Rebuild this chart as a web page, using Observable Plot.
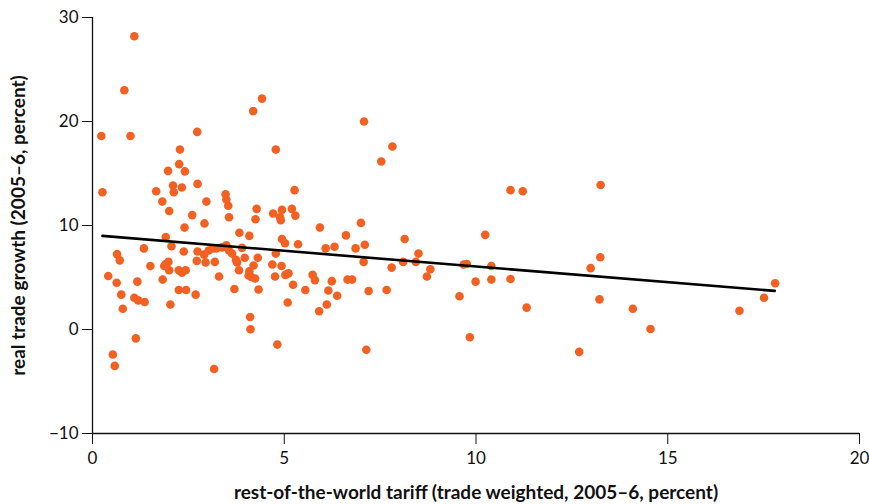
<!DOCTYPE html>
<html><head><meta charset="utf-8">
<script src="https://cdn.jsdelivr.net/npm/d3@7"></script>
<script src="https://cdn.jsdelivr.net/npm/@observablehq/plot@0.6"></script>
<style>
body{margin:0;background:#fff}
g[aria-label="x-axis label"], g[aria-label="y-axis label"]{font-weight:bold;font-size:19px}
</style>
</head><body><div id="chart"></div>
<script>
// rest-of-the-world tariff (x) and real trade growth (y)
const tariff = [1.09,0.83,0.23,0.99,4.42,4.19,2.73,2.28,4.78,2.26,1.97,2.41,0.26,2.74,2.10,2.33,1.66,2.12,3.47,3.49,
  1.82,2.97,3.54,2.0,4.28,4.71,4.94,2.60,3.56,4.25,4.89,4.91,2.92,2.40,3.83,4.09,1.91,4.94,5.02,1.34,
  2.06,2.38,2.74,2.91,3.03,3.14,3.23,3.38,3.49,3.56,3.64,3.90,3.74,3.77,3.97,4.31,4.78,0.64,0.71,1.51,
  1.91,1.98,1.87,2.0,2.25,2.33,2.43,2.72,2.95,3.19,1.83,3.30,3.82,4.20,4.09,4.07,4.14,4.24,4.33,4.69,
  4.93,4.76,5.03,5.11,0.41,0.63,1.17,0.75,1.09,1.19,1.36,0.79,2.25,2.44,2.69,3.70,2.03,4.11,4.12,1.13,
  4.82,0.53,0.58,3.17,7.08,7.82,7.53,5.27,5.20,5.29,5.93,7.0,6.61,8.14,5.36,6.08,6.31,6.86,7.10,8.50,
  7.07,7.80,8.10,8.43,8.81,8.72,9.68,9.76,5.74,5.80,5.23,6.24,6.65,6.77,5.55,6.15,6.38,7.20,7.67,9.57,
  5.09,6.11,5.91,9.84,7.14,10.9,11.22,13.25,10.24,10.40,9.99,10.40,10.90,12.99,13.24,11.32,13.22,14.09,14.55,12.69,
  17.8,17.51,16.87];
const growth = [28.2,23.0,18.6,18.6,22.2,21.0,19.0,17.3,17.3,15.9,15.25,15.2,13.2,14.0,13.85,13.65,13.3,13.2,13.0,12.5,
  12.3,12.3,11.9,11.4,11.6,11.15,11.5,11.0,10.8,10.6,10.8,10.5,10.2,9.8,9.3,9.0,8.9,8.7,8.3,7.8,
  8.0,7.5,7.5,7.2,7.6,7.8,7.8,7.9,8.1,7.6,7.3,7.85,6.7,6.45,6.9,6.9,7.3,7.25,6.65,6.1,
  6.3,6.5,6.1,5.7,5.7,5.45,5.7,6.6,6.45,6.5,4.8,5.1,5.7,6.15,5.6,5.2,5.05,4.9,3.85,6.25,
  6.1,5.1,5.25,5.4,5.15,4.5,4.6,3.35,3.05,2.8,2.65,2.0,3.8,3.8,3.35,3.9,2.4,1.2,0.03,-0.85,
  -1.45,-2.4,-3.5,-3.8,20.0,17.6,16.15,13.4,11.6,10.95,9.8,10.25,9.05,8.7,8.2,7.8,7.95,7.8,8.15,7.3,
  6.5,5.95,6.5,6.5,5.8,5.1,6.25,6.3,5.25,4.75,4.3,4.65,4.8,4.8,3.8,3.75,3.25,3.7,3.8,3.2,
  2.6,2.4,1.75,-0.75,-1.95,13.4,13.3,13.9,9.1,6.1,4.6,4.8,4.85,5.9,6.95,2.1,2.9,2.0,0.05,-2.15,
  4.45,3.05,1.8];
// fitted line end points
const fitX = [0.26, 17.79];
const fitY = [9.0, 3.71];
const xTicks = [0, 5, 10, 15, 20];
const yTicks = [-10, 0, 10, 20, 30];
const xLabel = "rest-of-the-world tariff (trade weighted, 2005–6, percent)";
const yLabel = "real trade growth (2005–6, percent)";

const points = tariff.map((x, i) => ({x, y: growth[i]}));
const fit = fitX.map((x, i) => ({x, y: fitY[i]}));

const chart = Plot.plot({
  width: 869, height: 504,
  marginLeft: 92, marginRight: 10, marginTop: 17, marginBottom: 71,
  style: {fontFamily: "Lato, sans-serif", fontSize: "17px", color: "#111", background: "#fff"},
  x: {domain: [0, 20]},
  y: {domain: [-10, 30]},
  marks: [
    Plot.axisX({ticks: xTicks, tickSize: 11, tickPadding: 7, label: xLabel, labelAnchor: "center", labelOffset: 65, labelArrow: "none"}),
    Plot.axisY({ticks: yTicks, tickSize: 10, tickPadding: 4, label: yLabel, labelAnchor: "center", labelOffset: 81, labelArrow: "none"}),
    Plot.ruleX([0], {stroke: "#111", strokeWidth: 1.3}),
    Plot.ruleY([-10], {stroke: "#111", strokeWidth: 1.3}),
    Plot.dot(points, {x: "x", y: "y", r: 4.3, fill: "#f26122", stroke: "none"}),
    Plot.line(fit, {x: "x", y: "y", stroke: "#000", strokeWidth: 2.6})
  ]
});
document.getElementById("chart").appendChild(chart);
</script>
</body></html>
